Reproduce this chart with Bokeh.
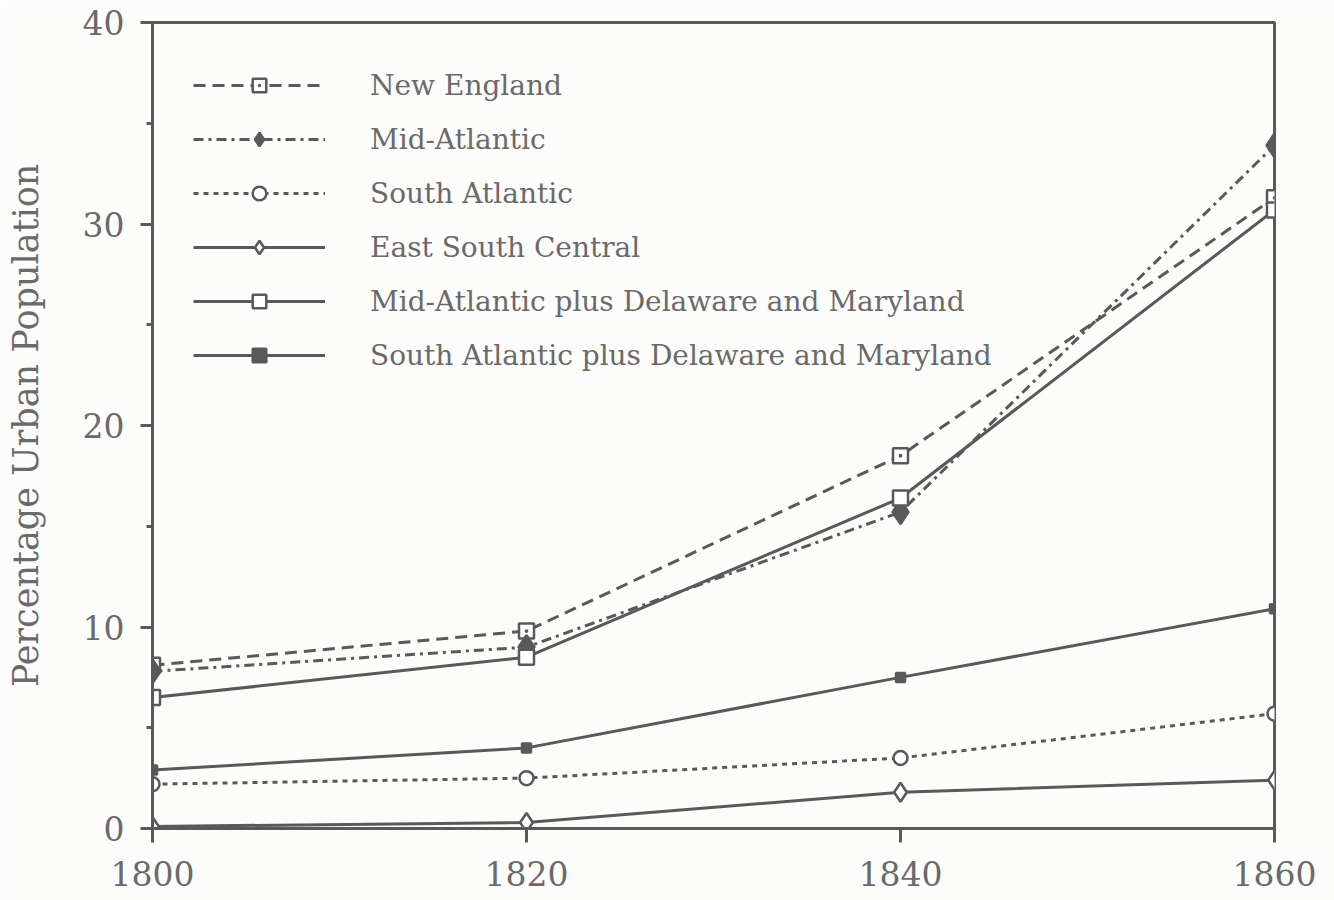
from bokeh.plotting import figure
from bokeh.models import (Range1d, FixedTicker, SingleIntervalTicker, Legend, LegendItem)
from bokeh.embed import file_html
from bokeh.resources import INLINE

years = [1800, 1820, 1840, 1860]
new_england = [8.1, 9.8, 18.5, 31.3]
mid_atlantic = [7.8, 9.0, 15.7, 33.9]
south_atlantic = [2.2, 2.5, 3.5, 5.7]
east_south_central = [0.1, 0.3, 1.8, 2.4]
mid_atl_plus = [6.5, 8.5, 16.4, 30.7]
south_atl_plus = [2.9, 4.0, 7.5, 10.9]

labels = ["New England", "Mid-Atlantic", "South Atlantic", "East South Central",
          "Mid-Atlantic plus Delaware and Maryland",
          "South Atlantic plus Delaware and Maryland"]
x_ticks = [1800, 1820, 1840, 1860]
y_label = "Percentage Urban Population"

INK = "#595959"
TXT = "#6a6a6a"
BG = "#fcfcfa"
FONT = "DejaVu Serif"

p = figure(width=1334, height=900, output_backend="svg", toolbar_location=None,
           x_range=Range1d(1800, 1860), y_range=Range1d(0, 40),
           min_border_left=152, min_border_right=60, min_border_top=22, min_border_bottom=72)
p.background_fill_color = BG
p.border_fill_color = BG
p.outline_line_color = INK
p.outline_line_width = 3
p.grid.visible = False

p.xaxis.ticker = FixedTicker(ticks=x_ticks)
p.yaxis.ticker = SingleIntervalTicker(interval=10, num_minor_ticks=2)
for ax in (p.xaxis, p.yaxis):
    ax.axis_line_color = INK
    ax.axis_line_width = 3
    ax.major_tick_line_color = INK
    ax.major_tick_line_width = 3
    ax.major_tick_in = 0
    ax.major_label_text_font = FONT
    ax.major_label_text_font_size = "33px"
    ax.major_label_text_color = TXT
p.xaxis.major_tick_out = 14
p.xaxis.minor_tick_line_color = None
p.xaxis.major_label_standoff = 18
p.yaxis.major_tick_out = 12
p.yaxis.minor_tick_out = 6
p.yaxis.minor_tick_in = 0
p.yaxis.minor_tick_line_color = INK
p.yaxis.minor_tick_line_width = 3
p.yaxis.major_label_standoff = 16
p.yaxis.axis_label = y_label
p.yaxis.axis_label_text_font = FONT
p.yaxis.axis_label_text_font_size = "35px"
p.yaxis.axis_label_text_font_style = "normal"
p.yaxis.axis_label_text_color = TXT
p.yaxis.axis_label_standoff = 34

LW = 3
series = [
    (new_england, "12 7", "square_dot", 15, "white"),
    (mid_atlantic, "10 5 3 5", "diamond", 24, INK),
    (south_atlantic, "5 5", "circle", 14, "white"),
    (east_south_central, "solid", "diamond", 19, "white"),
    (mid_atl_plus, "solid", "square", 15, "white"),
    (south_atl_plus, "solid", "square", 9, INK),
]

items = []
for (vals, dash, marker, size, fill), lab in zip(series, labels):
    lr = p.line(years, vals, line_color=INK, line_width=LW, line_dash=dash)
    sr = p.scatter(years, vals, marker=marker, size=size, fill_color=fill,
                   line_color=INK, line_width=2.5)
    items.append(LegendItem(label=lab, renderers=[lr, sr]))

legend = Legend(items=items, location=(41, 456), margin=0, padding=0,
                glyph_width=132, glyph_height=34, label_height=34, spacing=20,
                label_standoff=45, label_text_font=FONT, label_text_font_size="28px",
                label_text_color=TXT, background_fill_alpha=0, border_line_alpha=0)
p.add_layout(legend, "center")

open("out.html", "w").write(file_html(p, INLINE))
